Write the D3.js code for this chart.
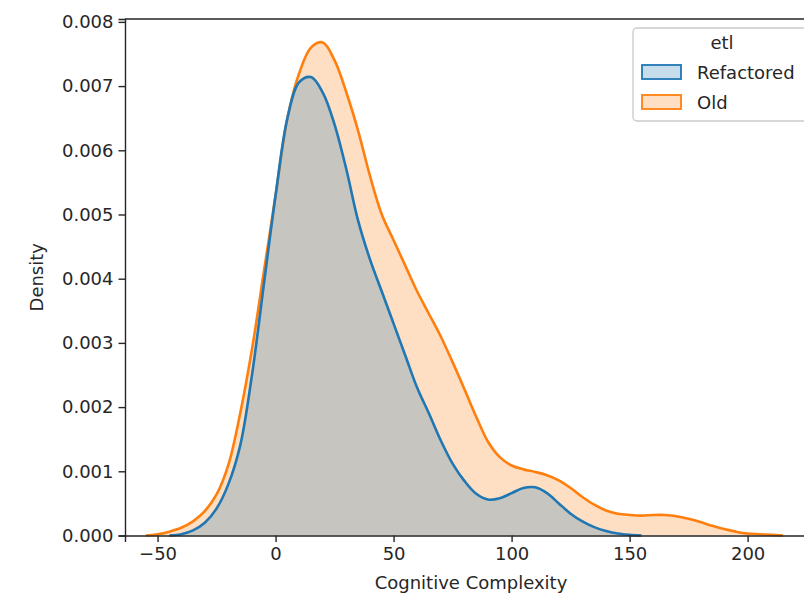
<!DOCTYPE html>
<html>
<head>
<meta charset="utf-8">
<script src="https://cdn.jsdelivr.net/npm/d3@7"></script>
<style>
  body { margin: 0; background: #fff; }
  text { font-family: "DejaVu Sans", sans-serif; fill: #262626; }
</style>
</head>
<body>
<div class="chart"></div>
<script>
// KDE curves (x = Cognitive Complexity, y = density)
var refX = [-45, -40, -35, -30, -25, -20, -15, -10, -5, 0, 5, 10, 15, 20, 25, 30, 35, 40, 45, 50,
    55, 60, 65, 70, 75, 80, 85, 90, 95, 100, 105, 110, 115, 120, 125, 130, 135, 140, 145, 150, 155];
var refY = [0, 0.00002, 0.00008, 0.0002, 0.00042, 0.0008, 0.0014, 0.0025, 0.0039, 0.0053,
    0.0065, 0.00706, 0.00714, 0.0069, 0.0064, 0.0057, 0.0049, 0.0043, 0.0038, 0.0033,
    0.0028, 0.0023, 0.0019, 0.00148, 0.00112, 0.00085, 0.00065, 0.00056, 0.00058, 0.00066,
    0.00074, 0.00075, 0.00066, 0.0005, 0.00034, 0.00022, 0.00013, 0.00007, 0.00003, 0.00001, 0];

var oldX = [-55, -50, -45, -40, -35, -30, -25, -20, -15, -10, -5, 0, 5, 10, 15, 20, 25, 30, 35, 40,
    45, 50, 55, 60, 65, 70, 75, 80, 85, 90, 95, 100, 105, 110, 115, 120, 125, 130, 135, 140,
    145, 150, 155, 160, 165, 170, 175, 180, 185, 190, 195, 200, 205, 210, 215];
var oldY = [0, 0.00002, 0.00006, 0.00012, 0.00022, 0.00038, 0.00064, 0.0011, 0.0019, 0.0029,
    0.0041, 0.0053, 0.0065, 0.0072, 0.0076, 0.00768, 0.0074, 0.0069, 0.0063, 0.0056,
    0.0050, 0.0046, 0.0042, 0.0038, 0.00345, 0.0031, 0.0027, 0.00228, 0.00185, 0.00146,
    0.00122, 0.00109, 0.00103, 0.00099, 0.00094, 0.00086, 0.00074, 0.0006, 0.00048, 0.00039,
    0.00034, 0.00032, 0.00031, 0.00032, 0.00032, 0.0003, 0.00026, 0.00021, 0.00015, 0.0001,
    0.00006, 0.00003, 0.00002, 0.00001, 0];

var xTicks = [-50, 0, 50, 100, 150, 200];
var yTicks = [0, 0.001, 0.002, 0.003, 0.004, 0.005, 0.006, 0.007, 0.008];

var legendTitle = "etl";
var seriesNames = ["Refactored", "Old"];
var seriesColors = ["#1f77b4", "#ff7f0e"];

var width = 804, height = 602;
var mLeft = 125, mTop = 19, mRight = 817, mBottom = 535.5;

var xScale = d3.scaleLinear().domain([-63.8, 229.4]).range([mLeft, mRight]);
var yScale = d3.scaleLinear().domain([0, 0.008045]).range([mBottom, mTop]);

var svg = d3.select(".chart").append("svg")
    .attr("width", width)
    .attr("height", height);

var series = [
    { name: "Old", xs: oldX, ys: oldY, color: seriesColors[1] },
    { name: "Refactored", xs: refX, ys: refY, color: seriesColors[0] }
];

var curve = d3.curveCatmullRom.alpha(0.5);

var area = d3.area()
    .x((d) => xScale(d[0]))
    .y0(yScale(0))
    .y1((d) => yScale(d[1]))
    .curve(curve);

var line = d3.line()
    .x((d) => xScale(d[0]))
    .y((d) => yScale(d[1]))
    .curve(curve);

// Old drawn first, Refactored on top (gives the grey overlap)
series.forEach((s) => {
    var pts = s.xs.map((x, i) => [x, s.ys[i]]);
    svg.append("path")
        .datum(pts)
        .attr("d", area)
        .attr("fill", s.color)
        .attr("fill-opacity", 0.25);
    svg.append("path")
        .datum(pts)
        .attr("d", line)
        .attr("fill", "none")
        .attr("stroke", s.color)
        .attr("stroke-width", 2.6);
});

// axes
var xAxis = svg.append("g")
    .attr("transform", "translate(0," + mBottom + ")")
    .call(d3.axisBottom(xScale).tickValues(xTicks).tickSizeOuter(0).tickSize(6.5).tickPadding(5));

var yAxis = svg.append("g")
    .attr("transform", "translate(" + mLeft + ",0)")
    .call(d3.axisLeft(yScale).tickValues(yTicks).tickFormat(d3.format(".3f")).tickSizeOuter(0).tickSize(6.5).tickPadding(5));

[xAxis, yAxis].forEach((a) => {
    a.select(".domain").attr("stroke", "#262626").attr("stroke-width", 1.4);
    a.selectAll(".tick line").attr("stroke", "#262626").attr("stroke-width", 1.4);
    a.selectAll(".tick text").attr("font-size", 18).attr("font-family", "DejaVu Sans").attr("fill", "#262626");
});

// top and right spines
svg.append("line")
    .attr("x1", mLeft).attr("x2", mRight)
    .attr("y1", mTop).attr("y2", mTop)
    .attr("stroke", "#262626").attr("stroke-width", 1.4);
svg.append("line")
    .attr("x1", mRight).attr("x2", mRight)
    .attr("y1", mTop).attr("y2", mBottom)
    .attr("stroke", "#262626").attr("stroke-width", 1.4);

// axis labels
svg.append("text")
    .text("Cognitive Complexity")
    .attr("x", (mLeft + mRight) / 2)
    .attr("y", 589)
    .attr("text-anchor", "middle")
    .attr("font-size", 18);

svg.append("text")
    .text("Density")
    .attr("transform", "translate(43," + ((mTop + mBottom) / 2) + ") rotate(-90)")
    .attr("text-anchor", "middle")
    .attr("font-size", 18);

// legend
var legend = svg.append("g").attr("transform", "translate(633,28)");

legend.append("rect")
    .attr("width", 178)
    .attr("height", 93)
    .attr("rx", 4)
    .attr("fill", "#fff")
    .attr("fill-opacity", 0.8)
    .attr("stroke", "#cccccc")
    .attr("stroke-width", 1.4);

legend.append("text")
    .text(legendTitle)
    .attr("x", 89)
    .attr("y", 21)
    .attr("text-anchor", "middle")
    .attr("font-size", 18);

seriesNames.forEach((name, i) => {
    var row = legend.append("g").attr("transform", "translate(0," + (37 + i * 30) + ")");
    row.append("rect")
        .attr("x", 9)
        .attr("y", 0)
        .attr("width", 39)
        .attr("height", 14)
        .attr("fill", seriesColors[i])
        .attr("fill-opacity", 0.25)
        .attr("stroke", seriesColors[i])
        .attr("stroke-width", 1.8);
    row.append("text")
        .text(name)
        .attr("x", 64)
        .attr("y", 13.5)
        .attr("font-size", 18);
});
</script>
</body>
</html>
